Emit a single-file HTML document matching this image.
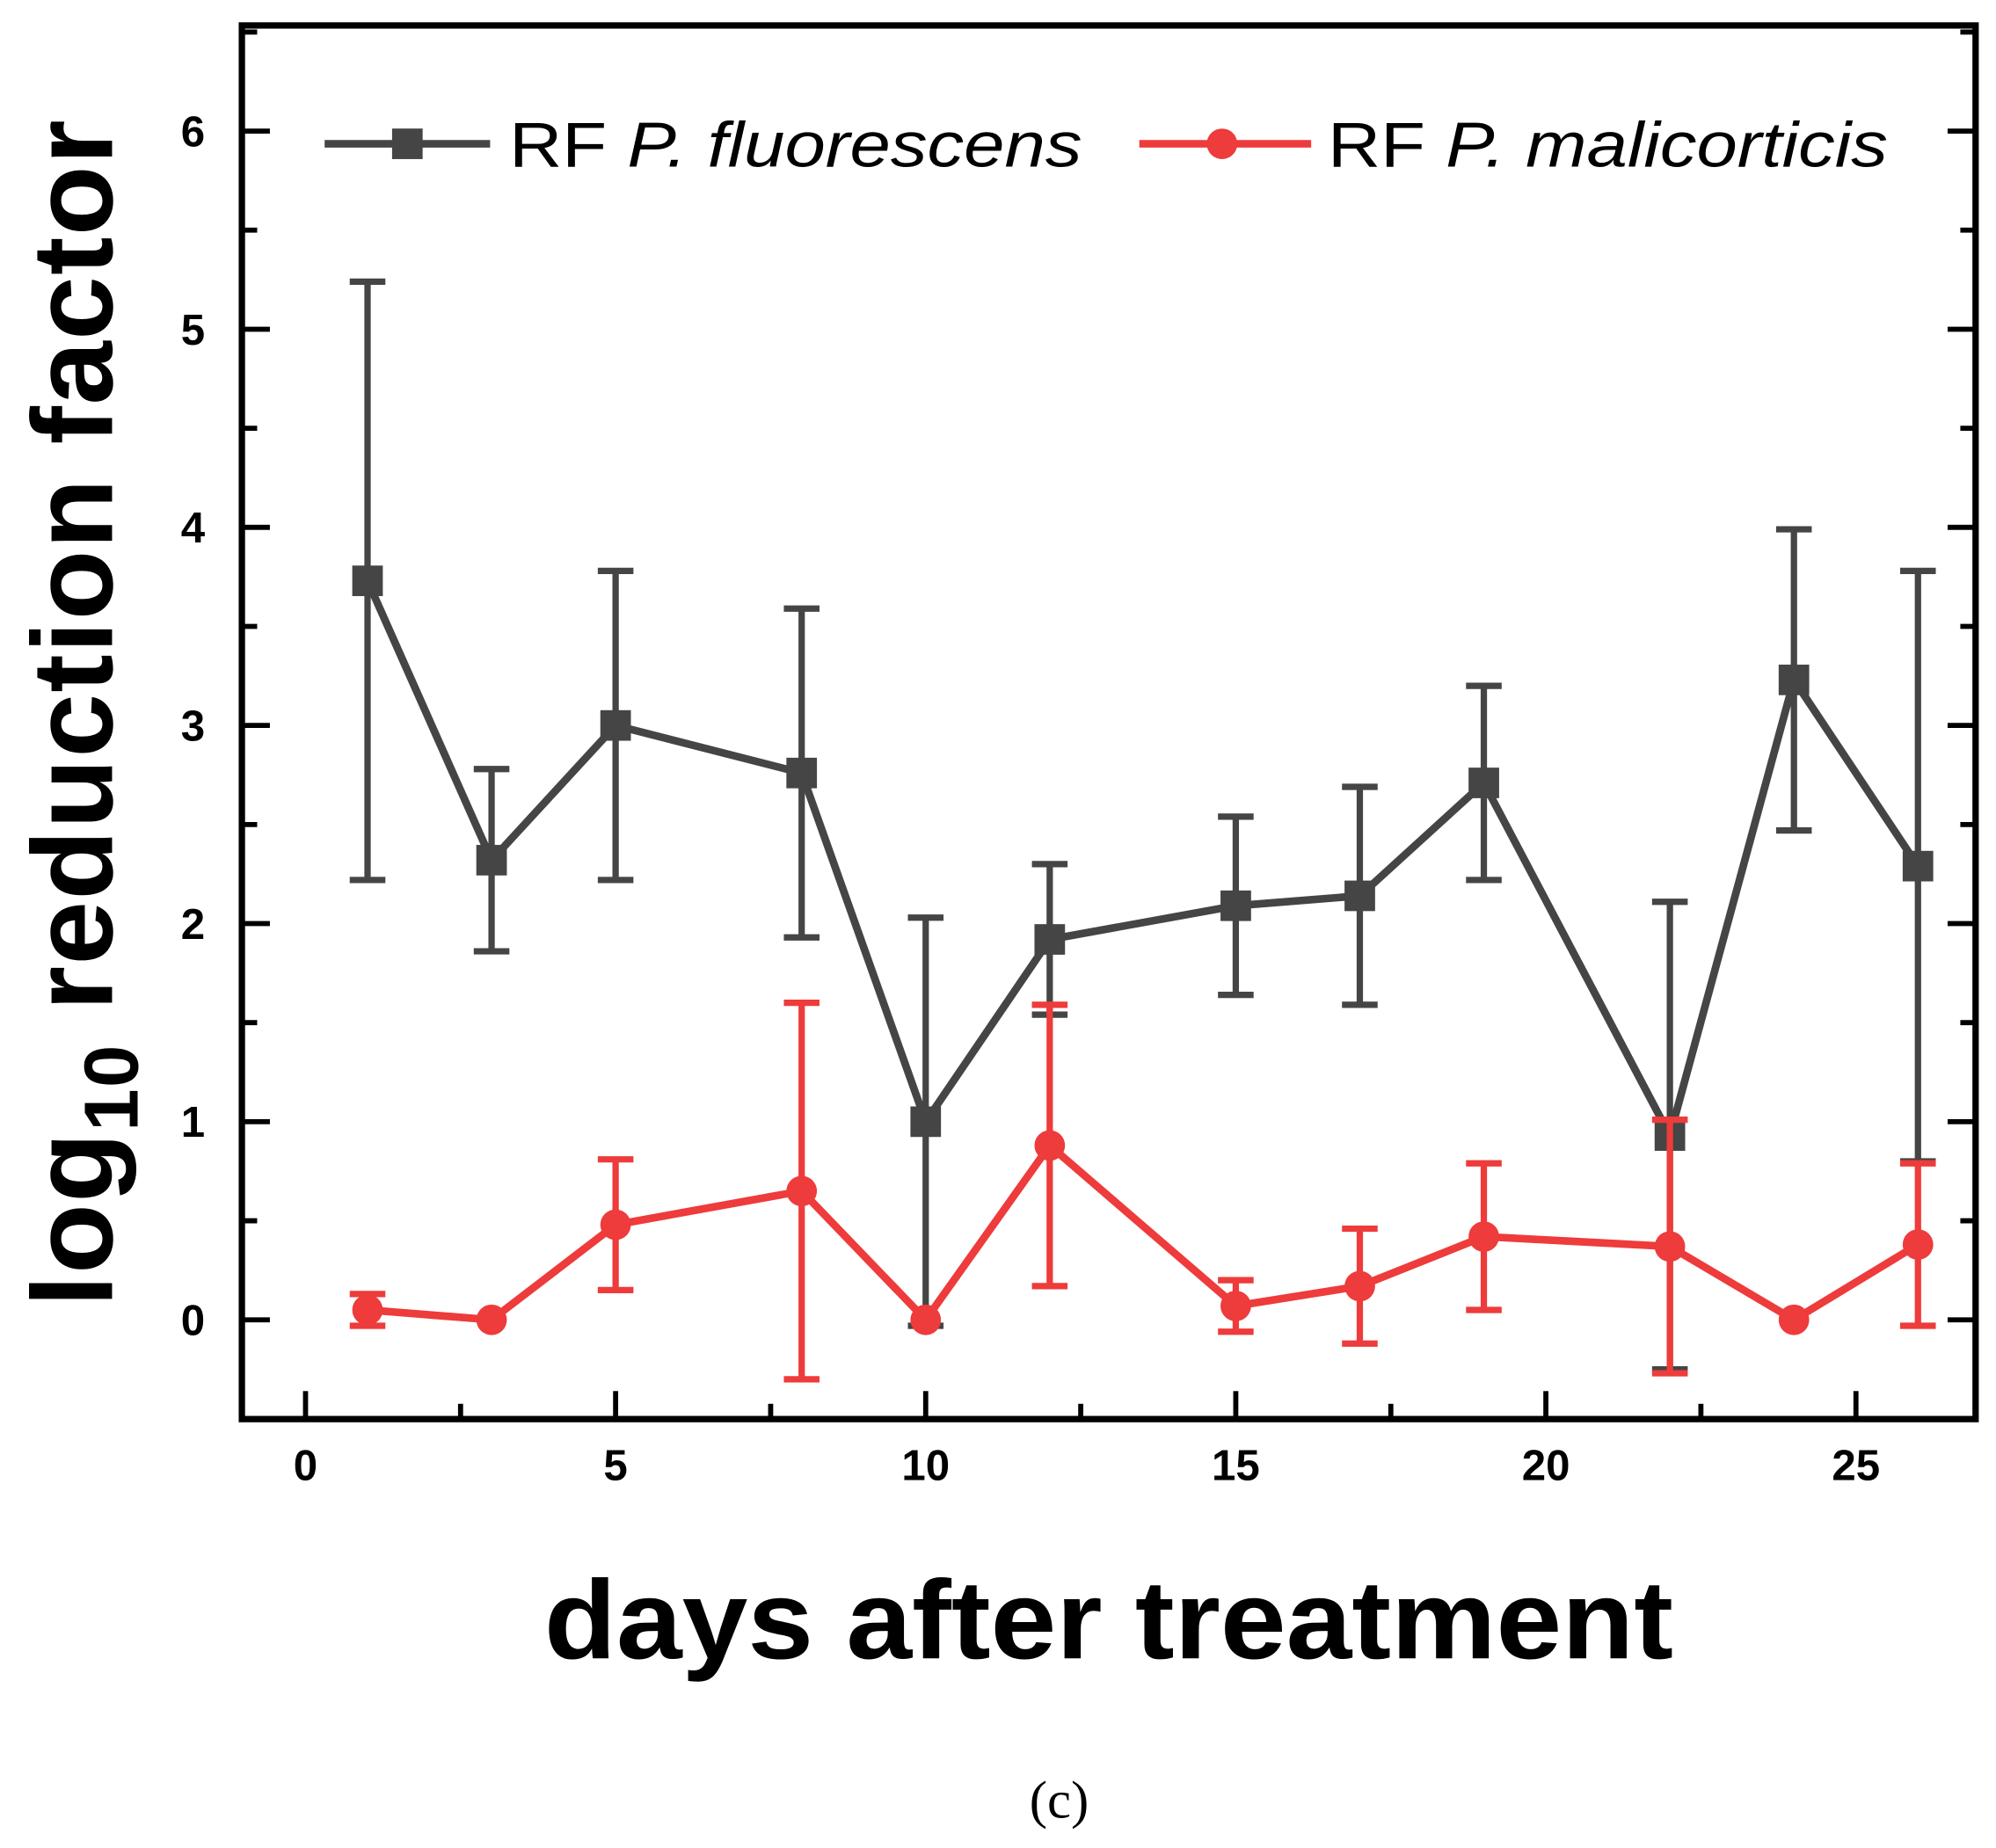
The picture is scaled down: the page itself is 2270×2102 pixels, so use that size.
<!DOCTYPE html>
<html><head><meta charset="utf-8"><style>
html,body{margin:0;padding:0;background:#fff;}
svg{display:block;}
text{font-family:"Liberation Sans",sans-serif;}
</style></head><body>
<svg id="chart" width="2270" height="2102" viewBox="0 0 1568 1452" xmlns="http://www.w3.org/2000/svg">
<g id="axes"></g>
<g id="series"></g>
<text transform="translate(88,560) rotate(-90)" text-anchor="middle" font-size="90" font-weight="bold" letter-spacing="1">log<tspan font-size="60" dy="20">10</tspan><tspan dy="-20"> reduction factor</tspan></text>
<text x="871" y="1303" text-anchor="middle" font-size="88" font-weight="bold" textLength="887" lengthAdjust="spacingAndGlyphs">days after treatment</text>
<text x="832" y="1428" text-anchor="middle" font-size="42" style="font-family:'Liberation Serif',serif">(c)</text>
<g>
<g>
<line x1="255" y1="113" x2="385" y2="113" stroke="#454545" stroke-width="6"/>
<rect x="308" y="101" width="24" height="24" fill="#454545"/>
<text x="400" y="131" font-size="50" textLength="450" lengthAdjust="spacingAndGlyphs">RF <tspan font-style="italic">P. fluorescens</tspan></text>
</g>
<g>
<line x1="895" y1="113" x2="1030" y2="113" stroke="#ee3b3b" stroke-width="6"/>
<circle cx="960" cy="113" r="12" fill="#ee3b3b"/>
<text x="1043" y="131" font-size="50" textLength="440" lengthAdjust="spacingAndGlyphs">RF <tspan font-style="italic">P. malicorticis</tspan></text>
</g>
</g>
</svg>
<script>
const days=[1,3,5,8,10,12,15,17,19,22,24,26];
const fluoMean=[3.73,2.32,3.0,2.76,1.0,1.92,2.09,2.14,2.71,0.93,3.23,2.29];
const fluoErr=[1.51,0.46,0.78,0.83,1.03,0.38,0.45,0.55,0.49,1.18,0.76,1.49];
const maliMean=[0.05,0.0,0.48,0.65,0.0,0.88,0.07,0.17,0.42,0.37,0.0,0.38];
const maliErr=[0.08,0,0.33,0.95,0,0.71,0.13,0.29,0.37,0.64,0,0.41];
const xTicks=[0,5,10,15,20,25];
const yTicks=[0,1,2,3,4,5,6];
const NS="http://www.w3.org/2000/svg";
const L=190,R=1552,T=20,B=1115;
const xs=v=>240+v*(1458-240)/25;
const ys=v=>1037-v*(1037-103)/6;
function mk(tag,attrs,parent){const e=document.createElementNS(NS,tag);for(const k in attrs)e.setAttribute(k,attrs[k]);parent.appendChild(e);return e;}
const ax=document.getElementById('axes');
let f=mk('rect',{x:L,y:T,width:R-L,height:B-T,fill:'none',stroke:'#000','stroke-width':5},ax);


for(let v=0;v<=25;v+=2.5){const x=xs(v);const maj=v%5===0;
 let t=mk('line',{x1:x,x2:x,y1:B,y2:B-(maj?22:12),stroke:'#000','stroke-width':4},ax);
 
 }
xTicks.forEach(v=>{let t=mk('text',{x:xs(v),y:1163,'text-anchor':'middle','font-size':34,'font-weight':'bold'},ax);t.textContent=v;
 
 });
for(let v=-0.5;v<=6.5;v+=0.5){const y=ys(v);const maj=Math.abs(v-Math.round(v))<1e-6;
 if(y<T+3||y>B-3)continue;
 let t=mk('line',{x1:L,x2:L+(maj?22:12),y1:y,y2:y,stroke:'#000','stroke-width':4},ax);
 
 
 let t2=mk('line',{x1:R,x2:R-(maj?22:12),y1:y,y2:y,stroke:'#000','stroke-width':4},ax);
 
 }
yTicks.forEach(v=>{let t=mk('text',{x:161,y:ys(v)+12,'text-anchor':'end','font-size':34,'font-weight':'bold'},ax);t.textContent=v;
 
 });
const sg=document.getElementById('series');
function series(mean,err,color,marker,name){
 const g=mk('g',{},sg);
 
 
 days.forEach((d,i)=>{if(err[i]<=0)return;const x=xs(d),y1=ys(mean[i]-err[i]),y2=ys(mean[i]+err[i]);
  const eb=mk('path',{d:`M${x},${y1}V${y2}M${x-14},${y1}H${x+14}M${x-14},${y2}H${x+14}`,stroke:color,'stroke-width':5,fill:'none'},g);
  
  });
 const pl=mk('polyline',{points:days.map((d,i)=>xs(d)+','+ys(mean[i])).join(' '),fill:'none',stroke:color,'stroke-width':6,'stroke-linejoin':'round'},g);
 
 
 days.forEach((d,i)=>{const x=xs(d),y=ys(mean[i]);let m;
  if(marker==='square')m=mk('rect',{x:x-12,y:y-12,width:24,height:24,fill:color},g);
  else m=mk('circle',{cx:x,cy:y,r:12,fill:color},g);
  
  });
}
series(fluoMean,fluoErr,'#454545','square','series-fluorescens');
series(maliMean,maliErr,'#ee3b3b','circle','series-malicorticis');
</script>
</body></html>
